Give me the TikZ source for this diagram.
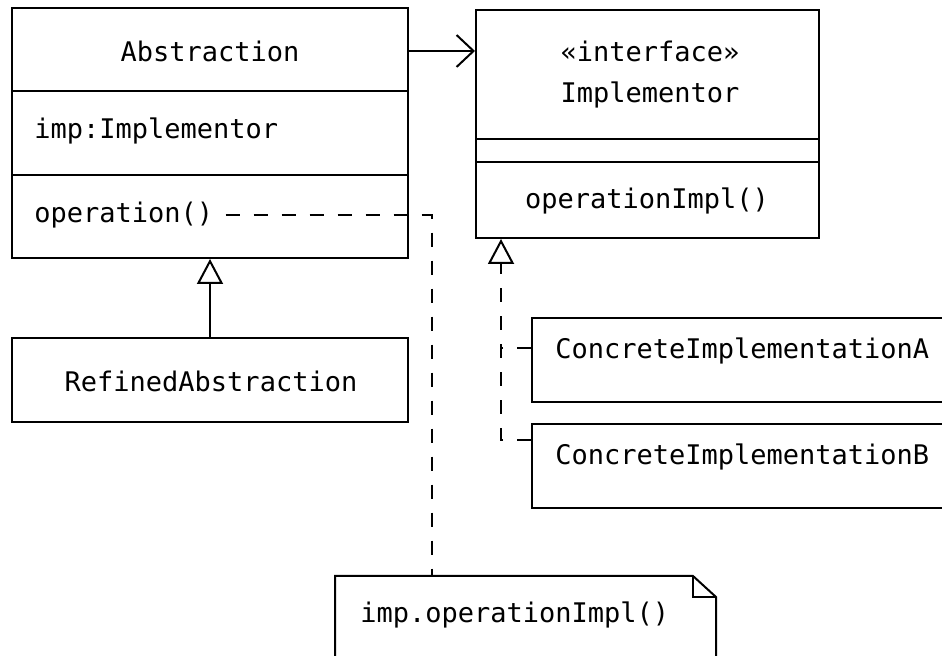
\documentclass[tikz,border=0pt]{standalone}
\usepackage{fontspec}
\setmonofont{DejaVu Sans Mono}
\usetikzlibrary{arrows.meta,fit}

\tikzset{
    umlbox/.style={draw, line width=1pt, inner sep=0pt},
    umltext/.style={font=\ttfamily\fontsize{13.5}{16}\selectfont, inner sep=0pt},
    dashline/.style={line width=1pt, dash pattern=on 7pt off 7pt},
    realize/.style={-{Triangle[open, length=12.5pt, width=13pt, line width=1pt]}},
    navarrow/.style={line width=1pt, -{Straight Barb[length=8.5pt, width=16pt, line width=1pt]}}
}

\begin{document}
\begin{tikzpicture}[x=0.5pt, y=-0.5pt]
            % Fix the frame
            \clip (0,0) rectangle (942,656);

            % Draw the Abstraction class
            \node[umlbox, fit={(12,8) (408,258)}] (abs) {};
            \draw[line width=1pt] (12,91) -- (408,91);
            \draw[line width=1pt] (12,175) -- (408,175);
            \node[umltext] (absname) at (210,51) {Abstraction};
            \node[umltext, anchor=west] (absattr) at (34,131) {imp:Implementor};
            \node[umltext, anchor=west] (absop) at (34,215) {operation()};

            % Draw the Implementor interface
            \node[umlbox, fit={(476,10) (819,238)}] (impl) {};
            \draw[line width=1pt] (476,139) -- (819,139);
            \draw[line width=1pt] (476,162) -- (819,162);
            \node[umltext] (stereo) at (650,51) {«interface»};
            \node[umltext] (implname) at (650,95) {Implementor};
            \node[umltext] (implop) at (647,201) {operationImpl()};

            % Draw the refined class and the concrete classes
            \node[umlbox, fit={(12,338) (408,422)}] (refined) {};
            \node[umltext] (refname) at (211,381) {RefinedAbstraction};
            \node[umlbox, fit={(532,318) (970,402)}] (conA) {};
            \node[umltext, anchor=west] (conAname) at (555,351) {ConcreteImplementationA};
            \node[umlbox, fit={(532,424) (970,508)}] (conB) {};
            \node[umltext, anchor=west] (conBname) at (555,457) {ConcreteImplementationB};

            % Draw the note
            \draw[line width=1pt] (335,700) -- (335,576) -- (693,576) -- (716,597) -- (716,700);
            \draw[line width=1pt] (693,576) -- (693,597) -- (716,597);
            \node[fit={(335,576) (716,700)}, inner sep=0pt] (note) {};
            \node[umltext, anchor=west] (notetext) at (360,615) {imp.operationImpl()};

            % Draw the connectors
            \draw[navarrow] (abs.east |- absname) -- (impl.west |- absname);
            \draw[line width=1pt, realize] (refined.north) -- (abs.south);
            \coordinate (bend) at (501,440);
            \draw[dashline, realize] (conB.west |- bend) -- (bend) -- (bend |- impl.south);
            \draw[dashline] (conA.west |- 0,348) -- (bend |- 0,348);
            \draw[dashline] ([xshift=6pt]absop.east) -| (432,0 |- note.north);

        \end{tikzpicture}
\end{document}
